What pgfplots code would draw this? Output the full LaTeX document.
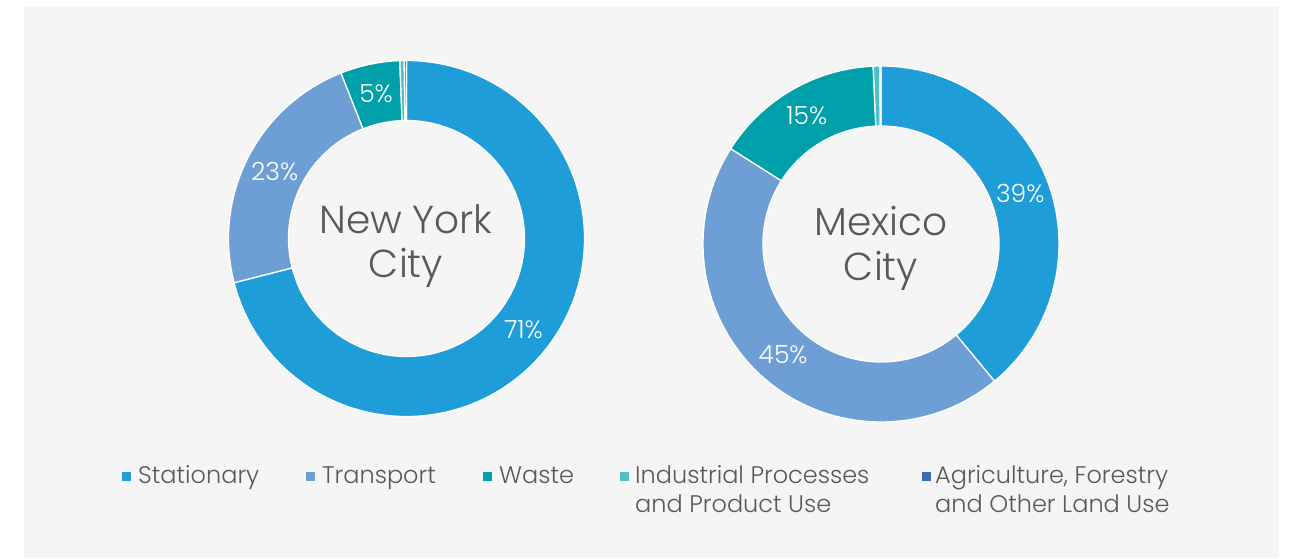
\documentclass[border=0pt]{standalone}
\usepackage{pgfplots}
\pgfplotsset{compat=1.18}
\usepackage{pgfplotstable}
\usepackage{fontspec}
\setmainfont{Poppins}[UprightFont={* Light}]
\definecolor{cStat}{HTML}{1F9DD9}
\definecolor{cTrans}{HTML}{6E9FD4}
\definecolor{cWaste}{HTML}{00A0AA}
\definecolor{cInd}{HTML}{4FC1C6}
\definecolor{cAgri}{HTML}{3B6CB4}
\definecolor{bg}{HTML}{F5F5F5}
\definecolor{txt}{HTML}{595959}
\newcommand\pctfont{\fontsize{25}{29}\selectfont}
\newcommand\legfont{\fontsize{24}{28}\selectfont}
\newcommand\cityfont{\fontsize{39}{43}\selectfont}

\pgfplotstableread{
sector value color
Stationary 71 cStat
Transport 23 cTrans
Waste 5.4 cWaste
Industrial 0.4 cInd
Agriculture 0.2 cAgri
}\nyc
\pgfplotstableread{
sector value color
Stationary 39 cStat
Transport 45 cTrans
Waste 15.3 cWaste
Industrial 0.6 cInd
Agriculture 0.1 cAgri
}\mex

\newcommand\donut[3]{%
  \def\cum{0}%
  \pgfplotstablegetrowsof{#1}%
  \pgfmathtruncatemacro\nrows{\pgfplotsretval-1}%
  \pgfplotsforeachungrouped \r in {0,...,\nrows}{%
    \pgfplotstablegetelem{\r}{value}\of{#1}\let\val\pgfplotsretval
    \pgfplotstablegetelem{\r}{color}\of{#1}\let\col\pgfplotsretval
    \pgfmathsetmacro\aone{90-3.6*\cum}%
    \pgfmathsetmacro\atwo{90-3.6*(\cum+\val)}%
    \pgfmathsetmacro\amid{(\aone+\atwo)/2}%
    \pgfmathsetmacro\cum{\cum+\val}%
    \pgfmathtruncatemacro\lab{round(\val)}%
    \edef\temp{\noexpand\filldraw[fill=\col,draw=white,line width=1.3pt,shift={(axis cs:#2,#3)}] (\aone:178pt) arc[start angle=\aone,end angle=\atwo,radius=178pt] -- (\atwo:118pt) arc[start angle=\atwo,end angle=\aone,radius=118pt] -- cycle;}%
    \temp
    \ifnum\lab>1
      \edef\temp{\noexpand\node[text=white,font=\noexpand\pctfont,inner sep=0pt,shift={(axis cs:#2,#3)}] at (\amid:148pt) {\lab\noexpand\%};}%
      \temp
    \fi
  }%
}

\begin{document}
\begin{tikzpicture}
\begin{axis}[x=1pt,y=1pt,xmin=0,xmax=1293,ymin=0,ymax=558,hide axis,clip=false]
\fill[white] (axis cs:0,0) rectangle (axis cs:1293,558);
\fill[bg] (axis cs:24,0) rectangle (axis cs:1279,551);
\donut{\nyc}{406.5}{319.5}
\donut{\mex}{881}{314}
% centre titles
\node[anchor=base,text=txt,font=\cityfont,inner sep=0pt] at (axis cs:406,325) {New York};
\node[anchor=base,text=txt,font=\cityfont,inner sep=0pt] at (axis cs:406,281) {City};
\node[anchor=base,text=txt,font=\cityfont,inner sep=0pt] at (axis cs:881,323) {Mexico};
\node[anchor=base,text=txt,font=\cityfont,inner sep=0pt] at (axis cs:881,278) {City};
% legend
\fill[cStat] (axis cs:122,77.5) rectangle (axis cs:131,86.5);
\node[anchor=base west,text=txt,font=\legfont,inner sep=0pt] at (axis cs:138,75) {Stationary};
\fill[cTrans] (axis cs:306,77.5) rectangle (axis cs:315,86.5);
\node[anchor=base west,text=txt,font=\legfont,inner sep=0pt] at (axis cs:322,75) {Transport};
\fill[cWaste] (axis cs:483,77.5) rectangle (axis cs:492,86.5);
\node[anchor=base west,text=txt,font=\legfont,inner sep=0pt] at (axis cs:499,75) {Waste};
\fill[cInd] (axis cs:620,77.5) rectangle (axis cs:629,86.5);
\node[anchor=base west,text=txt,font=\legfont,inner sep=0pt] at (axis cs:635,75) {Industrial Processes};
\node[anchor=base west,text=txt,font=\legfont,inner sep=0pt] at (axis cs:635,46) {and Product Use};
\fill[cAgri] (axis cs:922,77.5) rectangle (axis cs:931,86.5);
\node[anchor=base west,text=txt,font=\legfont,inner sep=0pt] at (axis cs:935,75) {Agriculture, Forestry};
\node[anchor=base west,text=txt,font=\legfont,inner sep=0pt] at (axis cs:935,46) {and Other Land Use};
\end{axis}
\end{tikzpicture}
\end{document}
